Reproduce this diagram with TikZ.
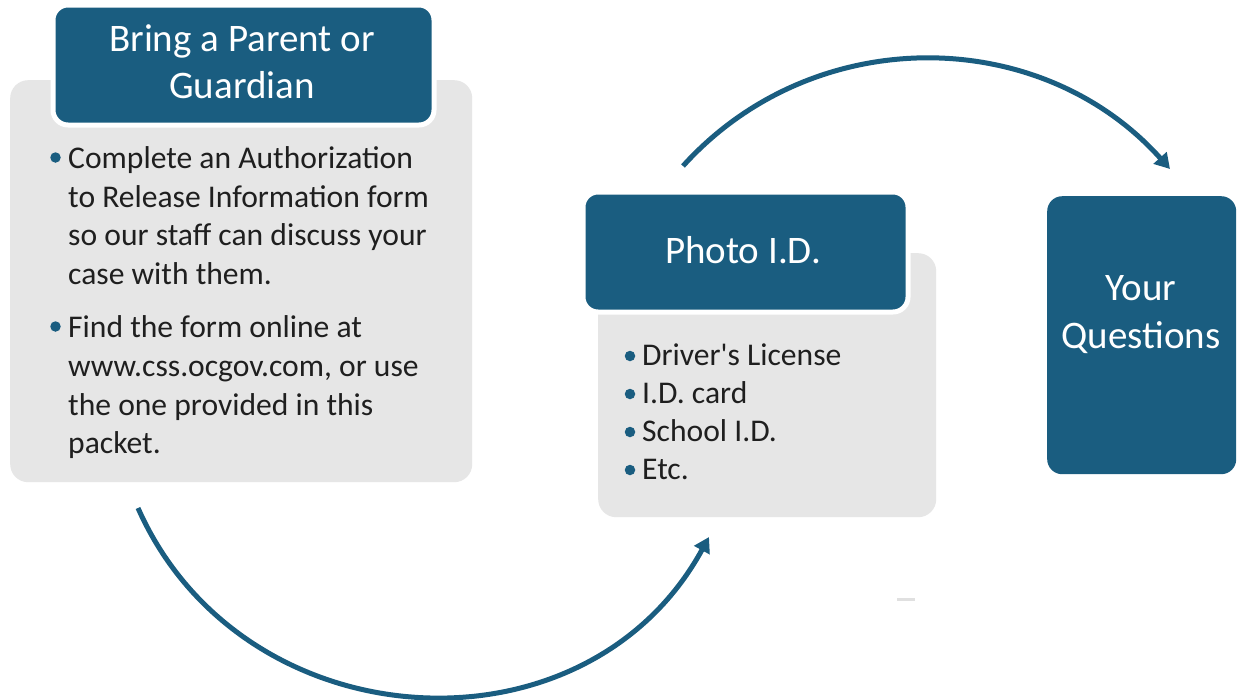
\documentclass[tikz,border=0pt]{standalone}
\usepackage{fontspec}
\setmainfont{Carlito}
\usetikzlibrary{arrows.meta}
\definecolor{cblue}{HTML}{1A5D80}
\definecolor{cgray}{HTML}{E6E6E6}
\definecolor{ctext}{HTML}{1F1F1F}
\tikzset{
  graybox/.style={rectangle, rounded corners=18pt, fill=cgray, draw=none, inner sep=0pt, anchor=north west},
  titlebox/.style={rectangle, rounded corners=15pt, fill=cblue, draw=white, line width=5pt, inner sep=0pt, anchor=north west},
  sidebox/.style={rectangle, rounded corners=15pt, fill=cblue, draw=none, inner sep=0pt, anchor=north west},
  titletext/.style={text=white, inner sep=0pt, anchor=base, font=\fontsize{39}{47}\selectfont},
  bodytext/.style={text=ctext, inner sep=0pt, anchor=base west, font=\fontsize{31.6}{38.5}\selectfont},
  bul/.style={circle, fill=cblue, inner sep=0pt, minimum size=10.5pt},
  conn/.style={draw=cblue, line width=5pt, -{Triangle[length=15pt,width=17pt]}},
}
\begin{document}
\begin{tikzpicture}[x=1pt,y=-1pt]
\useasboundingbox[fill=white] (0,0) rectangle (1238,699);
% gray content boxes
\node[graybox, minimum width=462pt, minimum height=402pt] (g1) at (10,80) {};
\node[graybox, minimum width=338pt, minimum height=264pt] (g2) at (598,253) {};
% title boxes
\node[titlebox, minimum width=381pt, minimum height=120pt] (t1) at (50.5,2.5) {};
\node[titlebox, minimum width=325pt, minimum height=120pt] (t2) at (580.5,189.5) {};
\node[sidebox, minimum width=189pt, minimum height=278pt] (t3) at (1047,196) {};
% titles
\node[titletext] (t1a) at (242,51) {Bring a Parent or};
\node[titletext] (t1b) at (242,98) {Guardian};
\node[titletext] (t2a) at (743,263) {Photo I.D.};
\node[titletext] (t3a) at (1141,300) {Your};
\node[titletext] (t3b) at (1141,348) {Questions};
% box 1 bullets
\node[bul] (b11) at (55.5,157.5) {};
\node[bodytext] (l11) at (68,168) {Complete an Authorization};
\node[bodytext] (l12) at (68,207) {to Release Information form};
\node[bodytext] (l13) at (68,245) {so our staff can discuss your};
\node[bodytext] (l14) at (68,284) {case with them.};
\node[bul] (b12) at (55.5,326.5) {};
\node[bodytext] (l15) at (68,337) {Find the form online at};
\node[bodytext] (l16) at (68,376) {www.css.ocgov.com, or use};
\node[bodytext] (l17) at (68,415) {the one provided in this};
\node[bodytext] (l18) at (68,453) {packet.};
% box 2 bullets
\node[bul] (b21) at (630,356) {};
\node[bodytext] (l21) at (642,365) {Driver\textquotesingle s License};
\node[bul] (b22) at (630,394) {};
\node[bodytext] (l22) at (642,403) {I.D. card};
\node[bul] (b23) at (630,432) {};
\node[bodytext] (l23) at (642,441) {School I.D.};
\node[bul] (b24) at (630,470) {};
\node[bodytext] (l24) at (642,479) {Etc.};
% connectors
\coordinate (a1s) at (138,508);
\coordinate (a1e) at (709,537);
\draw[conn] (a1s) .. controls (242,743) and (585,764) .. (a1e);
\coordinate (a2s) at (683,166);
\coordinate (a2e) at (1170,169);
\draw[conn] (a2s) .. controls (813,22) and (1040,24) .. (a2e);
% small dash
\coordinate (d1) at (897,599.5);
\coordinate (d2) at (915,599.5);
\draw[draw=black!12, line width=3pt] (d1) -- (d2);
\end{tikzpicture}
\end{document}
